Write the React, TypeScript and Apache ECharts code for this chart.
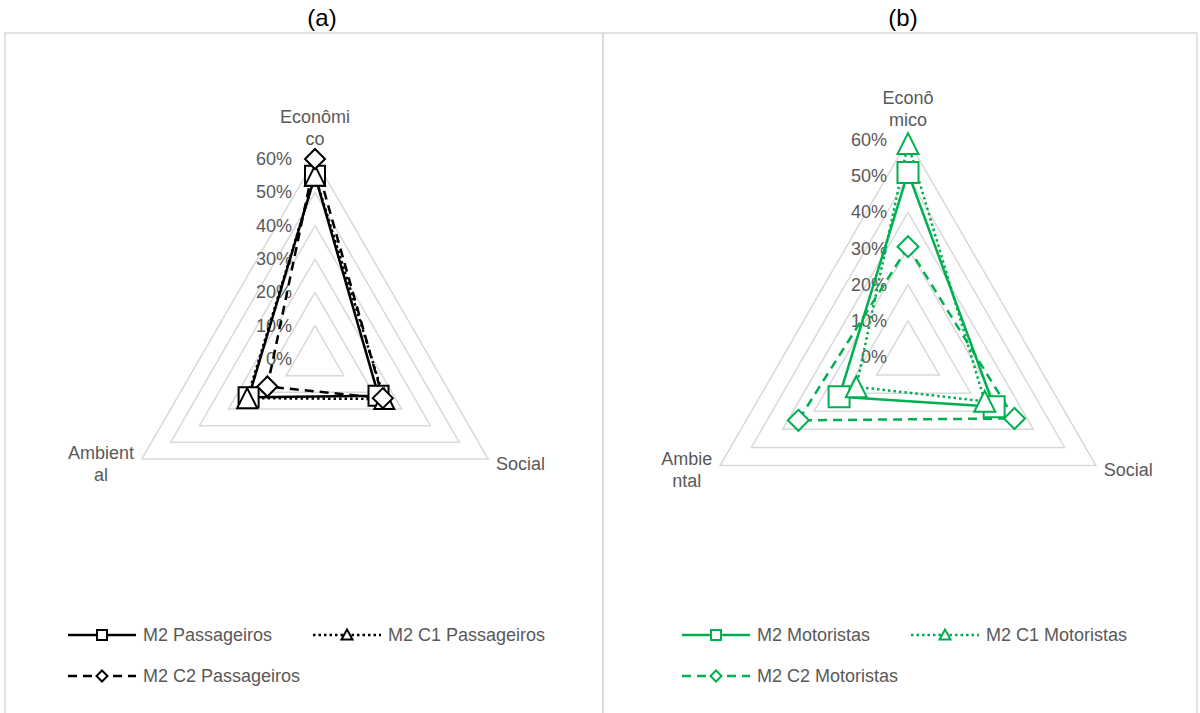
import React, { useEffect, useRef } from 'react';
import * as echarts from 'echarts';

// ---------- data ----------
const indicatorNames = ['Econômico', 'Ambiental', 'Social'];
const indicatorLabelsA = ['Econômi\nco', 'Ambient\nal', 'Social'];
const indicatorLabelsB = ['Econô\nmico', 'Ambie\nntal', 'Social'];
const axisMax = 60;
const axisSplits = 6;
const tickValues = [0, 10, 20, 30, 40, 50, 60];
const tickLabels = ['0%', '10%', '20%', '30%', '40%', '50%', '60%'];
const panelTitles = ['(a)', '(b)'];

const seriesNamesA = ['M2 Passageiros', 'M2 C1 Passageiros', 'M2 C2 Passageiros'];
const m2Passageiros = [55, 23, 22];
const m2C1Passageiros = [55, 23.5, 24];
const m2C2Passageiros = [60, 16.5, 23.5];

const seriesNamesB = ['M2 Motoristas', 'M2 C1 Motoristas', 'M2 C2 Motoristas'];
const m2Motoristas = [51, 22, 27.5];
const m2C1Motoristas = [59, 16.5, 24.5];
const m2C2Motoristas = [30.5, 35, 34];

// ---------- styles ----------
const FONT = '"Liberation Sans", Arial, sans-serif';
const TEXT = '#595959';
const GRID = '#d9d9d9';
const colorA = '#000000';
const colorB = '#00B050';
const symbols = ['rect', 'triangle', 'diamond'];
const lineDashes: any[] = ['solid', [2.5, 3], [9, 6]];

const radarA = { cx: 315, cy: 359, r: 200 };
const radarB = { cx: 908, cy: 357, r: 217 };

function nameFormatter(name: string) {
  if (name.indexOf('\n') < 0) return name;
  return name.split('\n').map((s) => `{c|${s}}`).join('\n');
}

function makeRadar(g: { cx: number; cy: number; r: number }, labels: string[]) {
  return {
    center: [g.cx, g.cy],
    radius: g.r,
    startAngle: 90,
    shape: 'polygon',
    splitNumber: axisSplits,
    indicator: labels.map((l) => ({ name: l, min: 0, max: axisMax })),
    axisName: {
      color: TEXT,
      fontSize: 18,
      fontFamily: FONT,
      lineHeight: 22,
      formatter: nameFormatter,
      rich: { c: { align: 'center', color: TEXT, fontSize: 18, fontFamily: FONT, lineHeight: 22 } },
    },
    nameGap: 9,
    axisLine: { show: false },
    axisTick: { show: false },
    axisLabel: { show: false },
    splitArea: { show: false },
    splitLine: { lineStyle: { color: GRID, width: 1.5 } },
  };
}

function makeSeries(names: string[], values: number[][], color: string, radarIndex: number, size: number) {
  return names.map((n, i) => ({
    type: 'radar',
    name: n,
    radarIndex,
    z: 3,
    symbol: symbols[i],
    symbolSize: size,
    lineStyle: { color, width: 2.5, type: lineDashes[i] },
    itemStyle: { color: '#ffffff', borderColor: color, borderWidth: 2 },
    data: [{ name: n, value: values[i] }],
  }));
}

function tickTexts(g: { cx: number; cy: number; r: number }, offset: number) {
  return tickValues.map((v, i) => ({
    type: 'text',
    x: g.cx - offset,
    y: g.cy - (g.r * v) / axisMax,
    style: { text: tickLabels[i], fill: TEXT, fontSize: 18, fontFamily: FONT, align: 'right', verticalAlign: 'middle' },
    z: 2,
    silent: true,
  }));
}

function legendMarker(kind: string, cx: number, cy: number, color: string) {
  const style = { fill: '#ffffff', stroke: color, lineWidth: 2 };
  if (kind === 'rect') {
    return { type: 'rect', shape: { x: cx - 5, y: cy - 5, width: 10, height: 10 }, style, z: 20 };
  }
  if (kind === 'triangle') {
    return { type: 'polygon', shape: { points: [[cx, cy - 5.5], [cx + 5.5, cy + 4.5], [cx - 5.5, cy + 4.5]] }, style, z: 20 };
  }
  return { type: 'polygon', shape: { points: [[cx, cy - 5.5], [cx + 5.5, cy], [cx, cy + 5.5], [cx - 5.5, cy]] }, style, z: 20 };
}

function legendItem(name: string, i: number, x: number, y: number, color: string) {
  const w = 68;
  const dash = lineDashes[i];
  return [
    {
      type: 'line',
      shape: { x1: x, y1: y, x2: x + w, y2: y },
      style: { stroke: color, lineWidth: 2.5, lineDash: dash === 'solid' ? null : dash },
      z: 10,
    },
    legendMarker(symbols[i], x + w / 2, y, color),
    {
      type: 'text',
      x: x + w + 7,
      y,
      style: { text: name, fill: TEXT, fontSize: 18, fontFamily: FONT, verticalAlign: 'middle', align: 'left' },
      z: 10,
    },
  ];
}

export default function App() {
  const ref = useRef<HTMLDivElement>(null);
  useEffect(() => {
    if (!ref.current) return;
    const chart = echarts.init(ref.current, undefined, { renderer: 'svg' });
    const graphics: any[] = [
      { type: 'rect', shape: { x: 5, y: 33, width: 598, height: 700 }, style: { fill: 'none', stroke: GRID, lineWidth: 1.5 }, z: 0, silent: true },
      { type: 'rect', shape: { x: 603, y: 33, width: 594, height: 700 }, style: { fill: 'none', stroke: GRID, lineWidth: 1.5 }, z: 0, silent: true },
      { type: 'text', x: 322, y: 17, style: { text: panelTitles[0], fill: '#000', fontSize: 24, fontFamily: FONT, align: 'center', verticalAlign: 'middle' } },
      { type: 'text', x: 903, y: 17, style: { text: panelTitles[1], fill: '#000', fontSize: 24, fontFamily: FONT, align: 'center', verticalAlign: 'middle' } },
      ...tickTexts(radarA, 23),
      ...tickTexts(radarB, 21),
      ...legendItem(seriesNamesA[0], 0, 68, 635, colorA),
      ...legendItem(seriesNamesA[1], 1, 313, 635, colorA),
      ...legendItem(seriesNamesA[2], 2, 68, 676, colorA),
      ...legendItem(seriesNamesB[0], 0, 682, 635, colorB),
      ...legendItem(seriesNamesB[1], 1, 911, 635, colorB),
      ...legendItem(seriesNamesB[2], 2, 682, 676, colorB),
    ];
    chart.setOption({
      animation: false,
      backgroundColor: '#ffffff',
      textStyle: { fontFamily: FONT },
      radar: [makeRadar(radarA, indicatorLabelsA), makeRadar(radarB, indicatorLabelsB)],
      series: [
        ...makeSeries(seriesNamesA, [m2Passageiros, m2C1Passageiros, m2C2Passageiros], colorA, 0, 20),
        ...makeSeries(seriesNamesB, [m2Motoristas, m2C1Motoristas, m2C2Motoristas], colorB, 1, 21),
      ],
      graphic: graphics,
    });
    return () => chart.dispose();
  }, []);
  return <div ref={ref} style={{ position: 'fixed', left: 0, top: 0, width: 1200, height: 713 }} />;
}
